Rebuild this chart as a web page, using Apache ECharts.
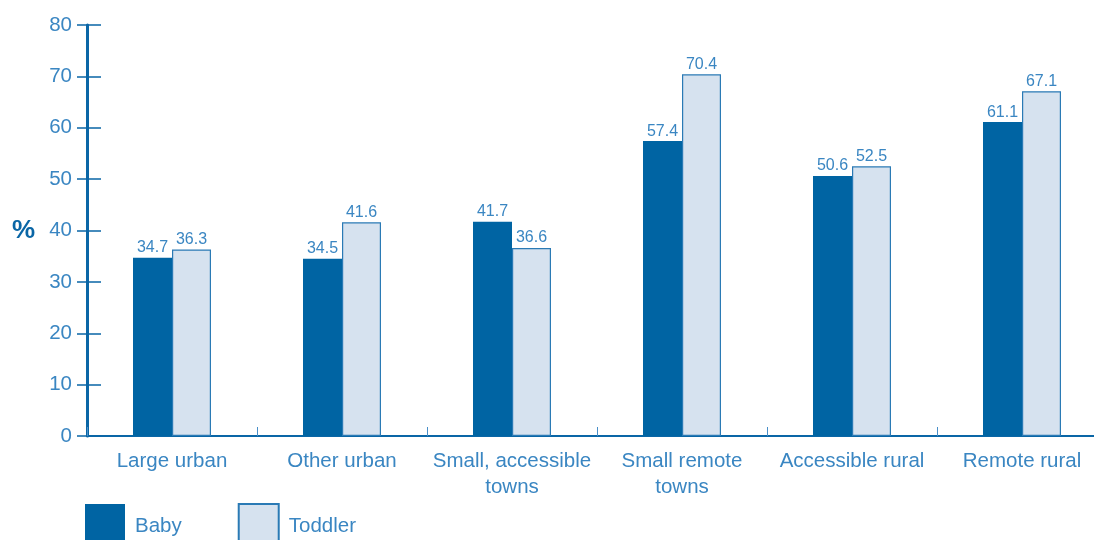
<!DOCTYPE html>
<html><head><meta charset="utf-8">
<script src="https://cdn.jsdelivr.net/npm/echarts@6/dist/echarts.min.js"></script>
<style>html,body{margin:0;padding:0;background:#fff;overflow:hidden}#c{width:1110px;height:540px}</style>
</head><body><div id="c"></div>
<script>
const categories = ['Large urban','Other urban','Small, accessible\ntowns','Small remote\ntowns','Accessible rural','Remote rural'];
const baby = [34.7, 34.5, 41.7, 57.4, 50.6, 61.1];
const toddler = [36.3, 41.6, 36.6, 70.4, 52.5, 67.1];
const seriesNames = ['Baby','Toddler'];

const axisBlue = '#0a66a6';
const textBlue = '#3a86c2';
const font = 'Liberation Sans, Arial, sans-serif';

const chart = echarts.init(document.getElementById('c'));
const labelCfg = {show:true, position:'top', distance:2, color:textBlue, fontSize:16, fontFamily:font, formatter:p=>p.value.toFixed(1)};
chart.setOption({
  animation:false,
  grid:{left:87, width:1020, top:25, height:411, containLabel:false},
  legend:{left:85, top:503, padding:0, itemWidth:40, itemHeight:44, itemGap:56, icon:'rect',
    textStyle:{color:textBlue, fontSize:20.5, fontFamily:font, padding:[0,0,0,5]}, data:seriesNames},
  graphic:[{type:'text', left:12, top:218, style:{text:'%', fill:axisBlue, font:'bold 26px '+font}}],
  xAxis:{type:'category', data:categories,
    axisLine:{lineStyle:{color:axisBlue, width:2}},
    axisTick:{show:true, inside:true, interval:0, length:9, lineStyle:{color:'#4a8fc8', width:1}},
    axisLabel:{interval:0, color:textBlue, fontSize:20.5, fontFamily:font, margin:12, lineHeight:26}},
  yAxis:[
    {type:'value', min:0, max:80, interval:10,
     axisLine:{show:true, lineStyle:{color:axisBlue, width:3}},
     axisTick:{show:true, length:10, lineStyle:{color:axisBlue, width:1.5}},
     axisLabel:{color:textBlue, fontSize:20.5, fontFamily:font, margin:15},
     splitLine:{show:false}},
    {type:'value', min:0, max:80, interval:10, position:'left',
     axisLine:{show:false}, axisTick:{show:true, inside:true, length:14, lineStyle:{color:axisBlue, width:1.5}},
     axisLabel:{show:false}, splitLine:{show:false}}
  ],
  series:[
    {name:seriesNames[0], type:'bar', data:baby, barWidth:39, barGap:'0%',
     itemStyle:{color:'#0064a3'}, label:labelCfg},
    {name:seriesNames[1], type:'bar', data:toddler, barWidth:39,
     itemStyle:{color:'#d6e2ef', borderColor:'#2a7ab5', borderWidth:1.2}, label:labelCfg}
  ]
});
</script></body></html>
